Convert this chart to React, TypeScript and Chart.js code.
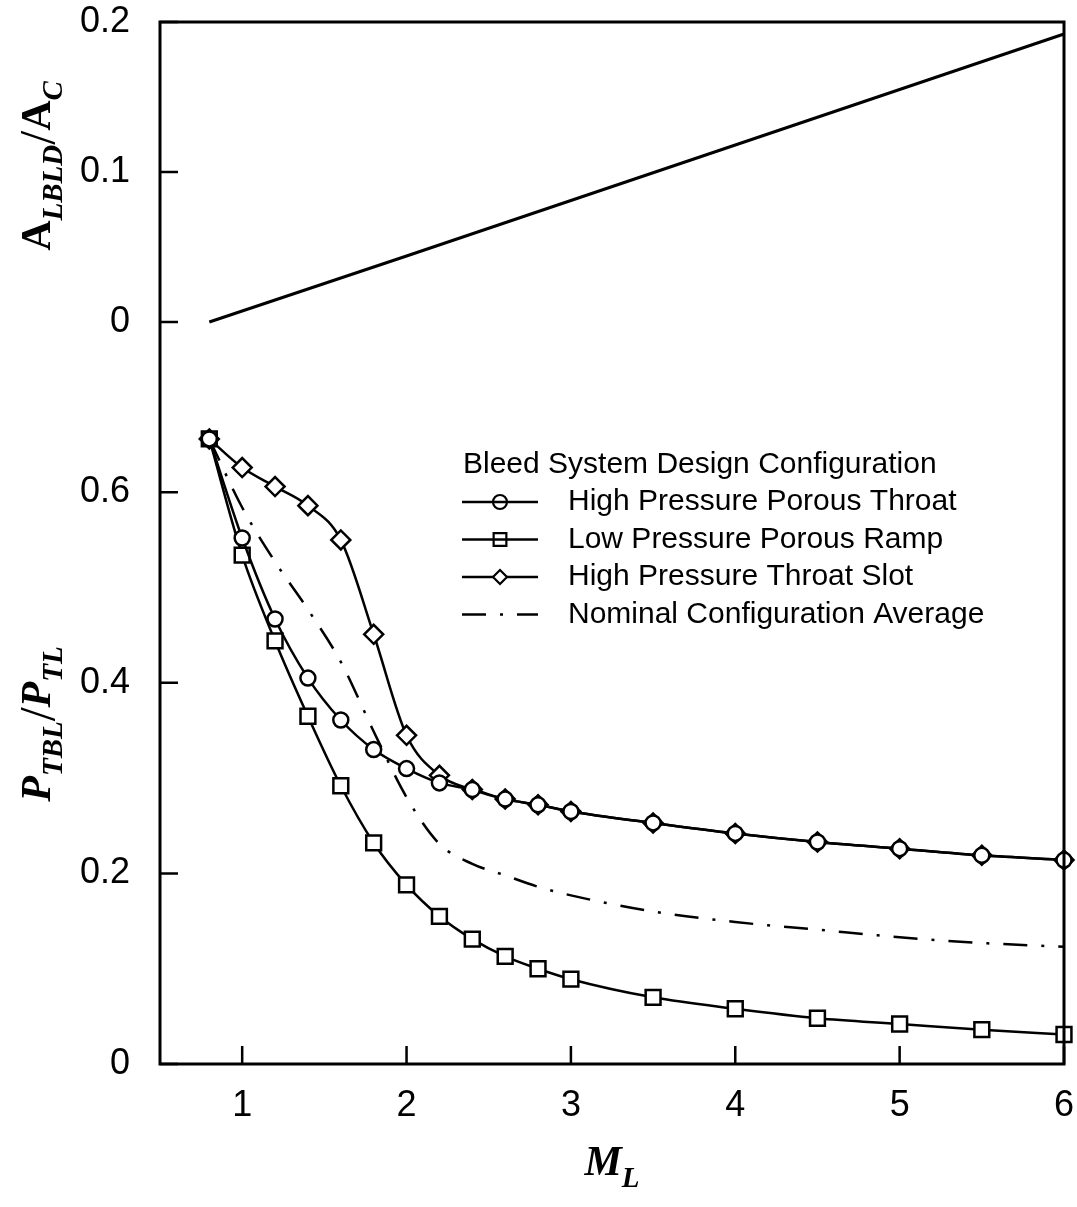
import { useEffect, useRef } from "react";
import { Chart, registerables } from "chart.js";

Chart.register(...registerables);

// Local Mach number stations shared by the recovery curves
const machNumbers = [0.8, 1.0, 1.2, 1.4, 1.6, 1.8, 2.0, 2.2, 2.4, 2.6, 2.8, 3.0, 3.5, 4.0, 4.5, 5.0, 5.5, 6.0];

// Boundary-layer total pressure recovery P_TBL / P_TL
const porousThroat = [0.656, 0.552, 0.467, 0.405, 0.361, 0.330, 0.310, 0.295, 0.288, 0.278, 0.272, 0.265, 0.253, 0.242, 0.233, 0.226, 0.219, 0.214];
const porousRamp = [0.656, 0.534, 0.444, 0.365, 0.292, 0.232, 0.188, 0.155, 0.131, 0.113, 0.100, 0.089, 0.070, 0.058, 0.048, 0.042, 0.036, 0.031];
const throatSlot = [0.656, 0.626, 0.606, 0.586, 0.550, 0.451, 0.345, 0.303, 0.288, 0.278, 0.272, 0.265, 0.253, 0.242, 0.233, 0.226, 0.219, 0.214];
const nominalAverage = [0.656, 0.584, 0.527, 0.477, 0.422, 0.349, 0.280, 0.231, 0.210, 0.198, 0.186, 0.177, 0.160, 0.149, 0.141, 0.133, 0.127, 0.123];

// Bleed area ratio A_LBLD / A_C
const bleedMach = [0.8, 2.0, 4.0, 6.0];
const bleedAreaRatio = [0, 0.044, 0.118, 0.192];

// Tick values
const xTicks = [1, 2, 3, 4, 5, 6];
const areaTicks = [0, 0.1, 0.2];
const pressureTicks = [0, 0.2, 0.4, 0.6];

const legendTitle = "Bleed System Design Configuration";

const SANS = '"Liberation Sans", Arial, sans-serif';
const SERIF = '"Liberation Serif", "Times New Roman", serif';

type Seg = { text: string; font: string; dy: number };

const areaTitle: Seg[] = [
  { text: "A", font: `bold 42px ${SERIF}`, dy: 0 },
  { text: "LBLD", font: `bold italic 29px ${SERIF}`, dy: 12 },
  { text: "/", font: `50px ${SERIF}`, dy: 4 },
  { text: "A", font: `bold 42px ${SERIF}`, dy: 0 },
  { text: "C", font: `bold italic 29px ${SERIF}`, dy: 12 },
];
const pressureTitle: Seg[] = [
  { text: "P", font: `bold italic 42px ${SERIF}`, dy: 0 },
  { text: "TBL", font: `bold italic 29px ${SERIF}`, dy: 12 },
  { text: "/", font: `50px ${SERIF}`, dy: 4 },
  { text: "P", font: `bold italic 42px ${SERIF}`, dy: 0 },
  { text: "TL", font: `bold italic 29px ${SERIF}`, dy: 12 },
];
const machTitle: Seg[] = [
  { text: "M", font: `bold italic 42px ${SERIF}`, dy: 0 },
  { text: "L", font: `bold italic 29px ${SERIF}`, dy: 12 },
];

function drawRich(ctx: CanvasRenderingContext2D, segs: Seg[], x: number, y: number, rotate: boolean) {
  ctx.save();
  ctx.translate(x, y);
  if (rotate) ctx.rotate(-Math.PI / 2);
  ctx.fillStyle = "#000";
  ctx.textBaseline = "alphabetic";
  ctx.textAlign = "left";
  const widths = segs.map((s) => {
    ctx.font = s.font;
    return ctx.measureText(s.text).width;
  });
  const total = widths.reduce((a, b) => a + b, 0);
  let cx = -total / 2;
  segs.forEach((s, i) => {
    ctx.font = s.font;
    ctx.fillText(s.text, cx, s.dy);
    cx += widths[i];
  });
  ctx.restore();
}

function drawMarker(ctx: CanvasRenderingContext2D, style: string, x: number, y: number, r: number, fill: boolean) {
  ctx.beginPath();
  if (style === "circle") {
    ctx.arc(x, y, r, 0, Math.PI * 2);
  } else if (style === "rect") {
    const h = r * Math.SQRT1_2;
    ctx.rect(x - h, y - h, 2 * h, 2 * h);
  } else if (style === "rectRot") {
    ctx.moveTo(x, y - r);
    ctx.lineTo(x + r, y);
    ctx.lineTo(x, y + r);
    ctx.lineTo(x - r, y);
    ctx.closePath();
  }
  if (fill) {
    ctx.fillStyle = "#fff";
    ctx.fill();
  }
  ctx.stroke();
}

const framePlugin = {
  id: "frame",
  afterDatasetsDraw(chart: any) {
    const { ctx, chartArea: a, scales } = chart;
    ctx.save();
    ctx.strokeStyle = "#000";
    ctx.lineWidth = 3;
    ctx.strokeRect(a.left, a.top, a.right - a.left, a.bottom - a.top);
    ctx.lineWidth = 2.5;
    const len = 18;
    ctx.beginPath();
    for (const v of xTicks) {
      const px = scales.x.getPixelForValue(v);
      ctx.moveTo(px, a.bottom);
      ctx.lineTo(px, a.bottom - len);
    }
    for (const v of areaTicks) {
      const py = scales.yArea.getPixelForValue(v);
      ctx.moveTo(a.left, py);
      ctx.lineTo(a.left + len, py);
    }
    for (const v of pressureTicks) {
      const py = scales.yPress.getPixelForValue(v);
      ctx.moveTo(a.left, py);
      ctx.lineTo(a.left + len, py);
    }
    ctx.stroke();
    ctx.restore();
  },
  afterDraw(chart: any) {
    const { ctx } = chart;
    // axis titles
    drawRich(ctx, areaTitle, 50, 166, true);
    drawRich(ctx, pressureTitle, 50, 724, true);
    drawRich(ctx, machTitle, 612, 1175, false);

    // legend block
    ctx.save();
    ctx.fillStyle = "#000";
    ctx.textBaseline = "middle";
    ctx.textAlign = "left";
    ctx.font = `30px ${SANS}`;
    ctx.fillText(legendTitle, 463, 465);
    const rows = chart.data.datasets.filter((d: any) => d.yAxisID === "yPress");
    rows.forEach((d: any, i: number) => {
      const y = 502 + i * 37.5;
      ctx.strokeStyle = "#000";
      ctx.lineWidth = 2.5;
      ctx.setLineDash(d.borderDash || []);
      ctx.beginPath();
      ctx.moveTo(462, y);
      ctx.lineTo(538, y);
      ctx.stroke();
      ctx.setLineDash([]);
      if (d.pointRadius > 0) {
        ctx.lineWidth = 2.2;
        drawMarker(ctx, d.pointStyle, 500, y, d.pointStyle === "rect" ? 9 : 7, d.pointStyle === "rectRot");
      }
      ctx.fillStyle = "#000";
      ctx.font = `30px ${SANS}`;
      ctx.fillText(d.label, 568, y);
    });
    ctx.restore();
  },
};

const pts = (xs: number[], ys: number[]) => xs.map((x, i) => ({ x, y: ys[i] }));

// keep the plot frame fixed: scales do not reserve extra room for label overhang
const noOverhang = (s: any) => {
  s.paddingTop = 0;
  s.paddingBottom = 0;
  s.paddingLeft = 0;
  s.paddingRight = 0;
};

export default function App() {
  const canvasRef = useRef<HTMLCanvasElement | null>(null);

  useEffect(() => {
    document.body.style.margin = "0";
    const canvas = canvasRef.current;
    if (!canvas) return;

    const curve = {
      borderColor: "#000",
      borderWidth: 2.5,
      pointBackgroundColor: "#fff",
      pointBorderColor: "#000",
      pointBorderWidth: 2.5,
      cubicInterpolationMode: "monotone" as const,
      clip: false as any,
      yAxisID: "yPress",
    };

    const tickFont = { family: SANS, size: 36 };

    const chart = new Chart(canvas, {
      type: "line",
      data: {
        datasets: [
          {
            ...curve,
            label: "High Pressure Porous Throat",
            data: pts(machNumbers, porousThroat),
            pointStyle: "circle",
            pointRadius: 7.5,
          },
          {
            ...curve,
            label: "Low Pressure Porous Ramp",
            data: pts(machNumbers, porousRamp),
            pointStyle: "rect",
            pointRadius: 10.5,
          },
          {
            ...curve,
            label: "High Pressure Throat Slot",
            data: pts(machNumbers, throatSlot),
            pointStyle: "rectRot",
            pointRadius: 9.5,
          },
          {
            ...curve,
            label: "Nominal Configuration Average",
            data: pts(machNumbers, nominalAverage),
            pointRadius: 0,
            borderWidth: 2.5,
            borderDash: [24, 14, 3, 14],
          },
          {
            label: "Bleed area ratio",
            data: pts(bleedMach, bleedAreaRatio),
            yAxisID: "yArea",
            borderColor: "#000",
            borderWidth: 3,
            pointRadius: 0,
            tension: 0,
            clip: false as any,
          },
        ],
      },
      options: {
        animation: false,
        responsive: false,
        layout: { padding: { top: 22, right: 13, left: 0, bottom: 0 } },
        plugins: { legend: { display: false }, tooltip: { enabled: false } },
        scales: {
          x: {
            type: "linear",
            min: 0.5,
            max: 6,
            grid: { display: false, drawTicks: false },
            border: { display: false },
            afterBuildTicks: (s: any) => {
              s.ticks = xTicks.map((value) => ({ value }));
            },
            afterFit: (s: any) => {
              s.height = 143;
              noOverhang(s);
            },
            ticks: {
              font: tickFont,
              color: "#000",
              padding: 20,
              maxRotation: 0,
              autoSkip: false,
              callback: (v: any) => String(v),
            },
          },
          yPress: {
            type: "linear",
            position: "left",
            stack: "panels",
            stackWeight: 667,
            min: 0,
            max: 0.7,
            grid: { display: false, drawTicks: false },
            border: { display: false },
            afterBuildTicks: (s: any) => {
              s.ticks = pressureTicks.map((value) => ({ value }));
            },
            afterFit: (s: any) => {
              s.width = 160;
              noOverhang(s);
            },
            ticks: {
              font: tickFont,
              color: "#000",
              padding: 30,
              autoSkip: false,
              callback: (v: any) => (v === 0 ? "0" : Number(v).toFixed(1)),
            },
          },
          yArea: {
            type: "linear",
            position: "left",
            stack: "panels",
            stackWeight: 375,
            min: -0.05,
            max: 0.2,
            grid: { display: false, drawTicks: false },
            border: { display: false },
            afterBuildTicks: (s: any) => {
              s.ticks = areaTicks.map((value) => ({ value }));
            },
            afterFit: (s: any) => {
              s.width = 160;
              noOverhang(s);
            },
            ticks: {
              font: tickFont,
              color: "#000",
              padding: 30,
              autoSkip: false,
              callback: (v: any) => (v === 0 ? "0" : Number(v).toFixed(1)),
            },
          },
        },
      } as any,
      plugins: [framePlugin],
    });

    return () => chart.destroy();
  }, []);

  return (
    <div style={{ width: 1077, height: 1207, background: "#fff" }}>
      <canvas ref={canvasRef} width={1077} height={1207} style={{ display: "block" }} />
    </div>
  );
}
